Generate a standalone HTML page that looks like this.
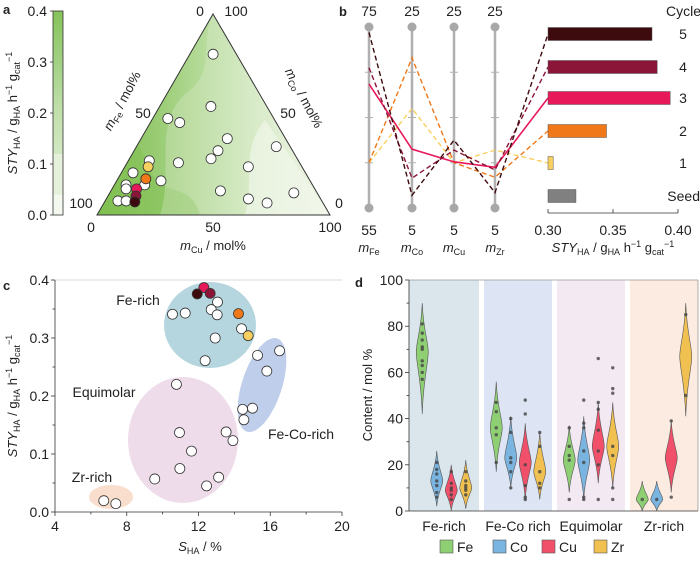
<!DOCTYPE html>
<html><head><meta charset="utf-8"><style>
html,body{margin:0;padding:0;background:#fff;}
svg{display:block;font-family:"Liberation Sans",Arial,sans-serif;}
text{fill:#222;}
</style></head><body>
<svg id="fig" width="700" height="562" viewBox="0 0 700 562" xmlns="http://www.w3.org/2000/svg">
<defs>
<linearGradient id="cbar" x1="0" y1="1" x2="0" y2="0">
<stop offset="0" stop-color="#f3f9ee"/><stop offset="0.1" stop-color="#f3f9ee"/>
<stop offset="0.1" stop-color="#e6f1dc"/><stop offset="0.3" stop-color="#e6f1dc"/>
<stop offset="0.3" stop-color="#d2e8c2"/><stop offset="0.5" stop-color="#c2e0ad"/>
<stop offset="0.7" stop-color="#a8d48c"/><stop offset="1" stop-color="#86c35a"/>
</linearGradient>
<linearGradient id="tern" x1="0" y1="0" x2="1" y2="0">
<stop offset="0" stop-color="#7fbf50"/><stop offset="0.25" stop-color="#98cb72"/>
<stop offset="0.45" stop-color="#b4da98"/><stop offset="0.65" stop-color="#d0e8be"/>
<stop offset="0.85" stop-color="#e6f2dc"/><stop offset="1" stop-color="#f3f9ee"/>
</linearGradient>
<clipPath id="triclip"><polygon points="97,215 330,215 213,14"/></clipPath>
</defs>
<g id="pa"></g>
<g id="pb"></g>
<g id="pc"></g>
<g id="pd"></g>
</svg>
<script>
// ---------- data ----------
const ternCu = [0.10,0.22,0.065,0.126,0.37,0.36,0.35,0.60,0.22,0.53,0.09,0.05,0.19,0.13,0.05,0.06,0.47,0.79,0.61,0.70,0.055,0.09];
const ternCo = [0.80,0.54,0.48,0.46,0.38,0.32,0.28,0.34,0.26,0.24,0.27,0.21,0.17,0.15,0.15,0.13,0.12,0.11,0.08,0.06,0.07,0.07];
const ternCycCu = [0.10,0.12,0.105,0.12,0.13];
const ternCycCo = [0.24,0.18,0.13,0.095,0.065];
const cycleColors = ["#f8d060","#f07818","#e8195a","#8b1538","#3d0a0e"];
const pcAxes = ["Fe","Co","Cu","Zr"];
const pcMin = [55,5,5,5];
const pcMax = [75,25,25,25];
const cycFe = [60,60,68.7,70.5,74.4];
const cycCo = [16,21.6,11.5,8.3,6.4];
const cycCu = [10,10,10.1,11.4,12.5];
const cycZr = [11.4,8.4,9.5,9.2,6.7];
const barLabels = ["Seed","1","2","3","4","5"];
const barValues = [0.3215,0.304,0.345,0.394,0.384,0.38];
const barTicks = [0.30,0.35,0.40];
const scS = [10.55,11.26,13.06,12.71,13.04,14.4,12.93,12.37,15.29,16.52,15.81,14.46,15.01,14.53,10.77,10.94,13.54,13.92,11.61,10.96,9.56,13.12,12.45,6.72,7.39];
const scSTY = [0.341,0.343,0.362,0.349,0.340,0.316,0.300,0.261,0.270,0.278,0.243,0.177,0.179,0.159,0.220,0.137,0.138,0.123,0.105,0.075,0.057,0.060,0.045,0.0195,0.0144];
const scCycS = [14.77,14.23,12.3,12.65,11.93];
const scCycSTY = [0.304,0.342,0.387,0.377,0.376];
const cXTicks = [4,8,12,16,20];
const cYTicks = [0,0.1,0.2,0.3,0.4];
const groups = ["Fe-rich","Fe-Co rich","Equimolar","Zr-rich"];
const elems = ["Fe","Co","Cu","Zr"];
const elemColors = ["#8fcf74","#7ab4e0","#f0506a","#f0c050"];
const vMin = [[42,2,0,1],[17,10,5,5],[8,5,12,10],[0,0,8,41]];
const vMax = [[90,26,20,22],[56,41,38,34],[37,41,47,47],[13,13,39,90]];
const vMid = [[69,13,9,10],[36,23,21,17],[22,22,28,28],[5,5,23,67]];
const vPts = [
 [[81,77,74,71,70,65,63,60,57],[21,18,16,13,11,8,6],[17,12,10,9,7,5],[17,13,11,10,9,7]],
 [[47,43,36,33,21],[40,34,23,21,17,10],[48,42,20,11,6,5],[34,28,17,12,10]],
 [[36,28,24,22,5],[48,38,36,26,21,6,5],[66,47,44,35,26,20,5],[62,53,51,28,24,10,5]],
 [[5],[5],[39,6],[85,50]]];
const dYTicks = [0,20,40,60,80,100];

// ---------- helpers ----------
const NS="http://www.w3.org/2000/svg";
function mk(parent,tag,attrs,txt){const e=document.createElementNS(NS,tag);for(const k in attrs)e.setAttribute(k,attrs[k]);if(txt!==undefined)e.textContent=txt;parent.appendChild(e);return e;}
const pa=document.getElementById('pa'),pb=document.getElementById('pb'),pc=document.getElementById('pc'),pd=document.getElementById('pd');
const FS=14, TS=13, R=5;
const styHTML='<tspan font-style="italic">STY</tspan><tspan font-size="9" dy="3">HA</tspan><tspan dy="-3"> / g</tspan><tspan font-size="9" dy="3">HA</tspan><tspan dy="-3"> h</tspan><tspan font-size="9" dy="-5">−1</tspan><tspan dy="5"> g</tspan><tspan font-size="9" dy="3">cat</tspan><tspan font-size="9" dy="-8">−1</tspan>';

// ---------- panel a ----------
let t=mk(pa,'text',{x:3,y:14,'font-size':13,'font-weight':'bold'},'a');

let cb=mk(pa,'rect',{x:53,y:11,width:10,height:204,fill:'url(#cbar)',stroke:'#333','stroke-width':0.8});

[0,0.1,0.2,0.3,0.4].forEach(v=>{const y=215-v/0.4*204;
 mk(pa,'line',{x1:53,x2:50,y1:y,y2:y,stroke:'#333','stroke-width':0.8});
 t=mk(pa,'text',{x:47,y:y+5,'font-size':FS,'text-anchor':'end'},v.toFixed(1));
 });
t=mk(pa,'text',{transform:'translate(17,113) rotate(-90)','font-size':TS,'text-anchor':'middle'});
t.innerHTML=styHTML;

let tri=mk(pa,'g',{'clip-path':'url(#triclip)'});
mk(tri,'rect',{x:97,y:14,width:233,height:201,fill:'url(#tern)'});
mk(tri,'path',{d:'M97,215 L97,120 C130,110 140,150 150,170 C165,200 190,180 200,215 Z',fill:'#7fbf50',opacity:0.5});
mk(tri,'path',{d:'M160,215 C175,170 150,120 190,90 C215,70 200,40 213,14 L330,215 Z',fill:'#e3f0d8',opacity:0.3});
mk(tri,'path',{d:'M245,215 C255,180 240,150 265,120 L330,215 Z',fill:'#f3f9ee',opacity:0.6});
let tp=mk(pa,'polygon',{points:'97,215 330,215 213,14',fill:'none',stroke:'#333','stroke-width':1});

function tern(cu,co){return [97+cu*233+co*116, 215-co*201];}
[['0',91,232],['50',213,232],['100',330,232]].forEach(a=>{t=mk(pa,'text',{x:a[1],y:a[2],'font-size':FS,'text-anchor':'middle'},a[0]);});
t=mk(pa,'text',{x:213,y:250,'font-size':TS,'text-anchor':'middle'});t.innerHTML='<tspan font-style="italic">m</tspan><tspan font-size="9" dy="3">Cu</tspan><tspan dy="-3"> / mol%</tspan>';

[['0',200,16],['100',236,16],['100',81,208],['50',143,118],['0',339,208],['50',288,118]].forEach(a=>{t=mk(pa,'text',{x:a[1],y:a[2],'font-size':FS,'text-anchor':'middle'},a[0]);});
t=mk(pa,'text',{transform:'translate(126,103) rotate(-62)','font-size':TS,'text-anchor':'middle'});t.innerHTML='<tspan font-style="italic">m</tspan><tspan font-size="9" dy="3">Fe</tspan><tspan dy="-3"> / mol%</tspan>';

t=mk(pa,'text',{transform:'translate(300,100) rotate(62)','font-size':TS,'text-anchor':'middle'});t.innerHTML='<tspan font-style="italic">m</tspan><tspan font-size="9" dy="3">Co</tspan><tspan dy="-3"> / mol%</tspan>';

ternCu.forEach((cu,i)=>{const p=tern(cu,ternCo[i]);
 const c=mk(pa,'circle',{cx:p[0],cy:p[1],r:R,fill:'#fff',stroke:'#333','stroke-width':0.8});
 });
ternCycCu.forEach((cu,i)=>{const p=tern(cu,ternCycCo[i]);
 const c=mk(pa,'circle',{cx:p[0],cy:p[1],r:R,fill:cycleColors[i],stroke:'#333','stroke-width':0.8});
 });

// ---------- panel b ----------
t=mk(pb,'text',{x:339,y:16,'font-size':13,'font-weight':'bold'},'b');

const axX=[369,412,454,495], pTop=27, pBot=208;
function py(v,k){return pBot-(v-pcMin[k])/(pcMax[k]-pcMin[k])*(pBot-pTop);}
axX.forEach((x,k)=>{
 const l=mk(pb,'line',{x1:x,x2:x,y1:pTop,y2:pBot,stroke:'#b0b0b0','stroke-width':2.5});
 
 [0.25,0.5,0.75].forEach(f=>{const y=pBot-f*(pBot-pTop);mk(pb,'line',{x1:x-4,x2:x+4,y1:y,y2:y,stroke:'#b0b0b0','stroke-width':1});});
 mk(pb,'circle',{cx:x,cy:pTop,r:4.5,fill:'#a8a8a8'});mk(pb,'circle',{cx:x,cy:pBot,r:4.5,fill:'#a8a8a8'});
 t=mk(pb,'text',{x:x,y:16,'font-size':FS,'text-anchor':'middle'},String(pcMax[k]));
 t=mk(pb,'text',{x:x,y:235,'font-size':FS,'text-anchor':'middle'},String(pcMin[k]));
 t=mk(pb,'text',{x:x,y:252,'font-size':TS,'text-anchor':'middle'});t.innerHTML='<tspan font-style="italic">m</tspan><tspan font-size="9" dy="3">'+pcAxes[k]+'</tspan>';
 
});
const bx0=548,bx1=678;
function bxs(v){return bx0+(v-0.30)/(0.40-0.30)*(bx1-bx0);}
const barY=[196,163,131,98,67,34];
function barCenter(i){return barY[i];}
const cyc=[cycFe,cycCo,cycCu,cycZr];
for(let c=0;c<5;c++){
 let pts=axX.map((x,k)=>x+','+py(cyc[k][c],k));
 pts.push(bx0+','+barCenter(c+1));
 const pl=mk(pb,'polyline',{points:pts.join(' '),fill:'none',stroke:cycleColors[c],'stroke-width':c===2?1.6:1.4,'stroke-dasharray':c===2?'none':'5,3'});
 
}
barValues.forEach((v,i)=>{
 const r=mk(pb,'rect',{x:bx0,y:barCenter(i)-6.5,width:bxs(v)-bx0,height:13,fill:i===0?'#808080':cycleColors[i-1],stroke:'#555','stroke-width':0.5});
 
 t=mk(pb,'text',{x:i===0?700:683,y:barCenter(i)+5,'font-size':FS,'text-anchor':i===0?'end':'middle'},barLabels[i]);
 
});
t=mk(pb,'text',{x:701,y:16,'font-size':FS,'text-anchor':'end'},'Cycle');
let ax=mk(pb,'line',{x1:bx0,x2:bx1,y1:213,y2:213,stroke:'#333','stroke-width':0.8});
barTicks.forEach(v=>{const x=bxs(v);mk(pb,'line',{x1:x,x2:x,y1:213,y2:209,stroke:'#333','stroke-width':0.8});
 t=mk(pb,'text',{x:x,y:235,'font-size':FS,'text-anchor':'middle'},v.toFixed(2));});
t=mk(pb,'text',{x:613,y:252,'font-size':TS,'text-anchor':'middle'});
t.innerHTML=styHTML;


// ---------- panel c ----------
t=mk(pc,'text',{x:3,y:290,'font-size':13,'font-weight':'bold'},'c');

const cL=55,cR=342,cT=280,cB=512;
function cx(s){return cL+(s-4)/16*(cR-cL);}
function cy(v){return cB-v/0.4*(cB-cT);}
[['fe-rich-region',210,325,46,43,0,'#a9cfd9'],['fe-co-rich-region',262,385,20,49,18,'#b4c6e6'],['equimolar-region',183,440,55,63,0,'#ecd6e8'],['zr-rich-region',111,497,22,12,0,'#f8d8c4']].forEach(e=>{
 const el=mk(pc,'ellipse',{cx:e[1],cy:e[2],rx:e[3],ry:e[4],fill:e[6],transform:'rotate('+e[5]+' '+e[1]+' '+e[2]+')',opacity:0.85});
 });
mk(pc,'line',{x1:cL,x2:cR,y1:cT,y2:cT,stroke:'#ccc','stroke-width':0.8});
ax=mk(pc,'line',{x1:cL,x2:cL,y1:cT,y2:cB,stroke:'#333','stroke-width':0.8});
ax=mk(pc,'line',{x1:cL,x2:cR,y1:cB,y2:cB,stroke:'#333','stroke-width':0.8});
cXTicks.forEach(s=>{const x=cx(s);mk(pc,'line',{x1:x,x2:x,y1:cB,y2:cB+4,stroke:'#333','stroke-width':0.8});
 t=mk(pc,'text',{x:x,y:cB+19,'font-size':FS,'text-anchor':'middle'},String(s));});
[6,10,14,18].forEach(s=>{const x=cx(s);mk(pc,'line',{x1:x,x2:x,y1:cB,y2:cB+2.5,stroke:'#333','stroke-width':0.8});});
cYTicks.forEach(v=>{const y=cy(v);mk(pc,'line',{x1:cL,x2:cL-4,y1:y,y2:y,stroke:'#333','stroke-width':0.8});
 t=mk(pc,'text',{x:cL-6,y:y+5,'font-size':FS,'text-anchor':'end'},v.toFixed(1));});
[0.05,0.15,0.25,0.35].forEach(v=>{const y=cy(v);mk(pc,'line',{x1:cL,x2:cL-2.5,y1:y,y2:y,stroke:'#333','stroke-width':0.8});});
t=mk(pc,'text',{x:200,y:551,'font-size':TS,'text-anchor':'middle'});t.innerHTML='<tspan font-style="italic">S</tspan><tspan font-size="9" dy="3">HA</tspan><tspan dy="-3"> / %</tspan>';

t=mk(pc,'text',{transform:'translate(17,396) rotate(-90)','font-size':TS,'text-anchor':'middle'});
t.innerHTML=styHTML;

[['Fe-rich',138,305],['Equimolar',104,397],['Fe-Co-rich',301,439],['Zr-rich',92,482]].forEach(a=>{t=mk(pc,'text',{x:a[1],y:a[2],'font-size':FS,'text-anchor':'middle'},a[0]);});
scS.forEach((s,i)=>{const c=mk(pc,'circle',{cx:cx(s),cy:cy(scSTY[i]),r:R,fill:'#fff',stroke:'#333','stroke-width':0.8});
 });
scCycS.forEach((s,i)=>{const c=mk(pc,'circle',{cx:cx(s),cy:cy(scCycSTY[i]),r:R,fill:cycleColors[i],stroke:'#333','stroke-width':0.8});
 });

// ---------- panel d ----------
t=mk(pd,'text',{x:355,y:287,'font-size':13,'font-weight':'bold'},'d');

const dL=409,dR=698,dT=280,dB=511;
function dy(v){return dB-v/100*(dB-dT);}
const bandX=[[409,479],[484,552],[557,625],[630,698]],bandC=['#dbe6ec','#dde4f3','#f3e9f3','#fbebe0'];
groups.forEach((g,gi)=>{const r=mk(pd,'rect',{x:bandX[gi][0],y:dT,width:bandX[gi][1]-bandX[gi][0],height:dB-dT,fill:bandC[gi]});
 });
mk(pd,'line',{x1:dL,x2:dR,y1:dT,y2:dT,stroke:'#999','stroke-width':0.8});
mk(pd,'line',{x1:dR,x2:dR,y1:dT,y2:dB,stroke:'#999','stroke-width':0.8});
ax=mk(pd,'line',{x1:dL,x2:dL,y1:dT,y2:dB,stroke:'#333','stroke-width':0.8});
ax=mk(pd,'line',{x1:dL,x2:dR,y1:dB,y2:dB,stroke:'#333','stroke-width':0.8});
dYTicks.forEach(v=>{const y=dy(v);mk(pd,'line',{x1:dL,x2:dL-4,y1:y,y2:y,stroke:'#333','stroke-width':0.8});
 t=mk(pd,'text',{x:dL-6,y:y+5,'font-size':FS,'text-anchor':'end'},String(v));});
[10,30,50,70,90].forEach(v=>{const y=dy(v);mk(pd,'line',{x1:dL,x2:dL-2.5,y1:y,y2:y,stroke:'#333','stroke-width':0.8});});
t=mk(pd,'text',{transform:'translate(372,395) rotate(-90)','font-size':TS,'text-anchor':'middle'},'Content / mol %');

const offs=[-21.75,-7.25,7.25,21.75];
groups.forEach((g,gi)=>{const gc=(bandX[gi][0]+bandX[gi][1])/2;
 t=mk(pd,'text',{x:gc,y:531,'font-size':FS,'text-anchor':'middle'},g);
 elems.forEach((el,ei)=>{const x=gc+offs[ei];const mn=vMin[gi][ei],mx=vMax[gi][ei],md=vMid[gi][ei];
  const hw=6;const ya=dy(mx),yb=dy(mn),ym=dy(md);
  const upH=ya+(ym-ya)*0.55, loH=ym+(yb-ym)*0.45;
  const d='M'+x+','+ya+' C'+(x+1)+','+upH+' '+(x+hw)+','+(ym-(ym-ya)*0.2)+' '+(x+hw)+','+ym+' C'+(x+hw)+','+(ym+(yb-ym)*0.2)+' '+(x+1)+','+loH+' '+x+','+yb+
    ' C'+(x-1)+','+loH+' '+(x-hw)+','+(ym+(yb-ym)*0.2)+' '+(x-hw)+','+ym+' C'+(x-hw)+','+(ym-(ym-ya)*0.2)+' '+(x-1)+','+upH+' '+x+','+ya+' Z';
  const v=mk(pd,'path',{d:d,fill:elemColors[ei],stroke:'#555','stroke-width':0.6});
  
  vPts[gi][ei].forEach(p=>{const c=mk(pd,'circle',{cx:x,cy:dy(p),r:1.7,fill:'#444',opacity:0.8});
   });
 });
});
const legX=[460,513,562,614];
elems.forEach((el,ei)=>{const r=mk(pd,'rect',{x:legX[ei]-20,y:540,width:13,height:13,fill:elemColors[ei],stroke:'#555','stroke-width':0.6});
 
 t=mk(pd,'text',{x:legX[ei]-3,y:552,'font-size':FS},el);});
</script>
</body></html>
